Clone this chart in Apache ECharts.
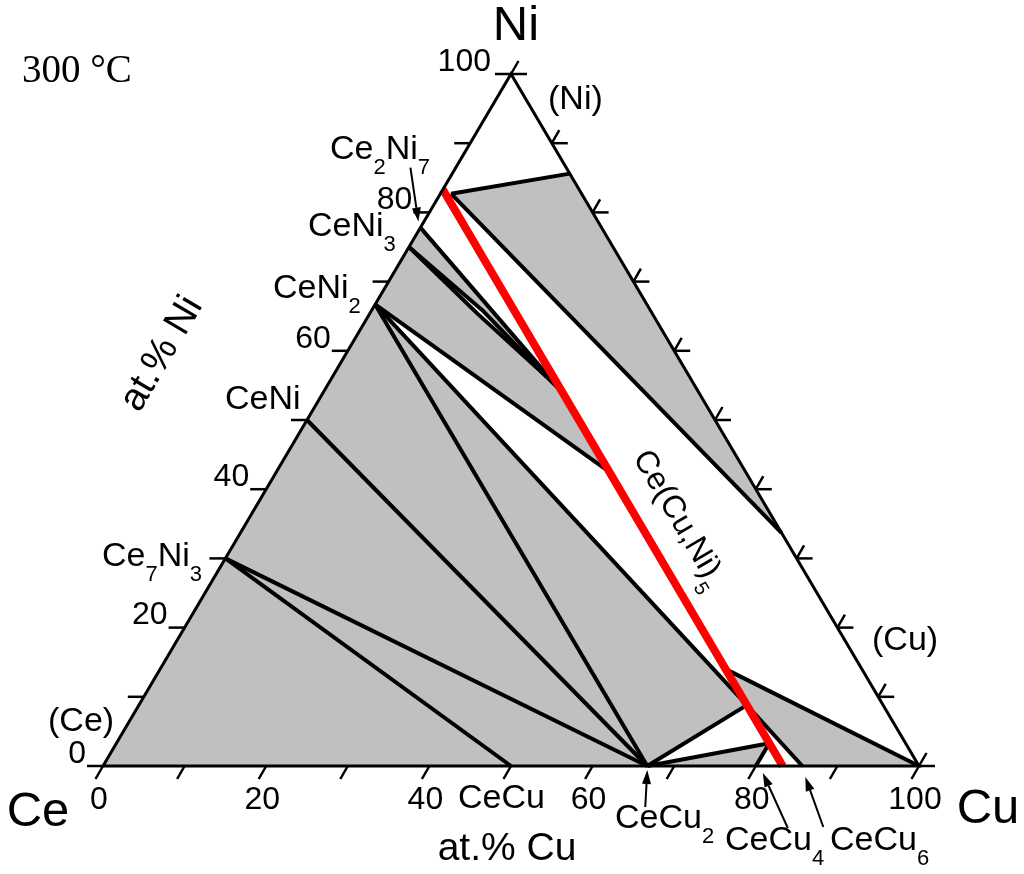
<!DOCTYPE html>
<html>
<head>
<meta charset="utf-8">
<title>Ce–Cu–Ni isothermal section, 300 °C</title>
<script src="https://cdn.jsdelivr.net/npm/echarts@6/dist/echarts.min.js"></script>
<style>
html,body{margin:0;padding:0;background:#ffffff;}
#chart{width:1024px;height:874px;}
</style>
</head>
<body>
<div id="chart"></div>
<script>
// ================= DATA  (compositions [at.% Cu, at.% Ni]; Ce = balance) =================
const cornerNames = ['Ce', 'Cu', 'Ni'];
const cornerCu = [0, 100, 0];
const cornerNi = [0, 0, 100];

const ceNiPhases = ['Ce7Ni3', 'CeNi', 'CeNi2', 'CeNi3', 'Ce2Ni7', 'CeNi5'];
const ceNiPhaseNi = [30, 50, 66.7, 75, 77.8, 83.3];

const ceCuPhases = ['CeCu', 'CeCu2', 'CeCu4', 'CeCu5', 'CeCu6'];
const ceCuPhaseCu = [50, 66.7, 80, 83.3, 85.7];

// corners of the ternary phase fields
const fieldPoints  = ['S1', 'S2', 'E', 'P1', 'P2', 'P3', 'P4', 'R1', 'T1', 'T2', 'T3'];
const fieldPointCu = [13.3, 13.5, 26.3, 29.3, 40.8, 74.5, 80.0, 69.3, 1.3, 14.4, 66.3];
const fieldPointNi = [65.3, 65.9, 56.2, 54.0, 42.5, 8.8, 3.3, 14.0, 82.7, 85.6, 33.7];

const grayRegions = [
  ['Ce', 'CeNi2', 'P3', 'CeCu2'],
  ['CeNi2', 'CeNi3', 'Ce2Ni7', 'P1', 'P2'],
  ['CeCu2', 'P4', 'CeCu4'],
  ['R1', 'Cu', 'CeCu6', 'P3'],
  ['T1', 'T2', 'T3']
];
const whiteRegions = [
  ['CeNi3', 'S1', 'E', 'S2']
];
const tieLines = [
  ['Ce7Ni3', 'CeCu'], ['Ce7Ni3', 'CeCu2'], ['CeNi', 'CeCu2'],
  ['CeNi2', 'CeCu2'], ['CeNi2', 'P3'], ['CeNi2', 'P2'],
  ['CeNi3', 'S1', 'E'], ['CeNi3', 'S2', 'E'], ['E', 'P1'], ['Ce2Ni7', 'P1'],
  ['CeCu2', 'P3'], ['CeCu2', 'P4'], ['P4', 'CeCu4'],
  ['P3', 'CeCu6'], ['R1', 'Cu'],
  ['T1', 'T2'], ['T1', 'T3']
];
const solidSolution = ['CeNi5', 'CeCu5'];          // Ce(Cu,Ni)5
const tickValues = [0, 10, 20, 30, 40, 50, 60, 70, 80, 90, 100];
const tickLabelValues = [0, 20, 40, 60, 80, 100];

// ================= helpers =================
const comp = {};
cornerNames.forEach((n, i) => comp[n] = [cornerCu[i], cornerNi[i]]);
ceNiPhases.forEach((n, i) => comp[n] = [0, ceNiPhaseNi[i]]);
ceCuPhases.forEach((n, i) => comp[n] = [ceCuPhaseCu[i], 0]);
fieldPoints.forEach((n, i) => comp[n] = [fieldPointCu[i], fieldPointNi[i]]);
// ternary -> cartesian (x along Ce–Cu side, y = at.% Ni)
function toXY(c) { return [c[0] + c[1] / 2, c[1]]; }

const FAMILY = '"Liberation Sans", Arial, Helvetica, sans-serif';
const mctx = document.createElement('canvas').getContext('2d');
function textWidth(t, size, fam) { mctx.font = size + 'px ' + (fam || FAMILY); return mctx.measureText(t).width; }

function txt(t, x, y, size, align, vAlign, fam) {
  return {
    type: 'text', x: x, y: y, silent: true,
    style: {
      text: t, fontSize: size, fontFamily: fam || FAMILY, fill: '#000',
      align: align || 'left', verticalAlign: vAlign || 'middle',
      textAlign: align || 'left', textVerticalAlign: vAlign || 'middle'
    }
  };
}
// chemical formula with subscripts: parts = [[text, isSub], ...]
function chem(parts, x, y, size, align) {
  const sub = Math.round(size * 0.64), off = Math.round(size * 0.53);
  const ws = parts.map(p => textWidth(p[0], p[1] ? sub : size));
  const total = ws.reduce((a, b) => a + b, 0);
  let cx = align === 'right' ? x - total : (align === 'center' ? x - total / 2 : x);
  return parts.map((p, i) => {
    const el = txt(p[0], cx, p[1] ? y + off : y, p[1] ? sub : size, 'left', 'middle');
    cx += ws[i];
    return el;
  });
}

// ================= layout (pixels) =================
const LBL = 34, TICKF = 32;
const phaseLabels = [
  { parts: [['Ce', 0], ['2', 1], ['Ni', 0], ['7', 1]], x: 330, y: 150 },
  { parts: [['CeNi', 0], ['3', 1]], x: 308, y: 227 },
  { parts: [['CeNi', 0], ['2', 1]], x: 273, y: 289 },
  { parts: [['CeNi', 0]], x: 225, y: 400 },
  { parts: [['Ce', 0], ['7', 1], ['Ni', 0], ['3', 1]], x: 102, y: 557 },
  { parts: [['(Ce)', 0]], x: 48, y: 722 },
  { parts: [['(Ni)', 0]], x: 548, y: 100 },
  { parts: [['(Cu)', 0]], x: 872, y: 641 },
  { parts: [['CeCu', 0]], x: 458, y: 799 },
  { parts: [['CeCu', 0], ['2', 1]], x: 615, y: 819 },
  { parts: [['CeCu', 0], ['4', 1]], x: 725, y: 841 },
  { parts: [['CeCu', 0], ['6', 1]], x: 830, y: 841 }
];
const arrows = [
  { target: 'Ce2Ni7', tip: [-2, -6], tail: [-10, -60] },
  { target: 'CeCu2', tip: [0, 4], tail: [-2, 41] },
  { target: 'CeCu4', tip: [7, 7], tail: [32, 62] },
  { target: 'CeCu6', tip: [3, 11], tail: [21, 61] }
];

function renderAll(params, api) {
  const P = n => api.coord(toXY(comp[n]));
  const C = c => api.coord(toXY(c));
  const ch = [];
  // phase fields
  grayRegions.forEach(r => ch.push({ type: 'polygon', shape: { points: r.map(P) }, style: { fill: '#c0c0c0', stroke: '#c0c0c0', lineWidth: 0.5 } }));
  whiteRegions.forEach(r => ch.push({ type: 'polygon', shape: { points: r.map(P) }, style: { fill: '#ffffff' } }));
  // tie lines
  tieLines.forEach(l => ch.push({ type: 'polyline', shape: { points: l.map(P) }, style: { stroke: '#000', lineWidth: 4, fill: null, lineJoin: 'round' } }));
  // Ce(Cu,Ni)5 solid solution
  ch.push({ type: 'line', shape: { x1: P(solidSolution[0])[0], y1: P(solidSolution[0])[1], x2: P(solidSolution[1])[0], y2: P(solidSolution[1])[1] }, style: { stroke: '#ff0000', lineWidth: 8, lineCap: 'butt' } });
  // triangle frame
  ch.push({ type: 'polygon', shape: { points: cornerNames.map(P) }, style: { fill: null, stroke: '#000', lineWidth: 3, lineJoin: 'miter' } });
  // ticks
  const tk = (a, d) => ch.push({ type: 'line', shape: { x1: a[0], y1: a[1], x2: a[0] + d[0], y2: a[1] + d[1] }, style: { stroke: '#000', lineWidth: 2.5 } });
  tickValues.forEach(v => {
    tk(C([v, 0]), [-7.5, 13]);          // Cu axis (bottom)
    tk(C([0, v]), [-16, 0]);            // Ni axis (left)
    const r = C([100 - v, v]);           // Cu–Ni side
    tk(r, [16, 0]);
    tk(r, [7.5, -13]);
  });
  tickLabelValues.forEach(v => {
    const l = C([0, v]);
    ch.push(txt(String(v), l[0] - 17 - (v === 100 ? 3 : 0), l[1] - 12, TICKF, 'right', 'middle'));
    const b = C([v, 0]);
    ch.push(txt(String(v), b[0] - 4, b[1] + 34, TICKF, 'center', 'middle'));
  });
  // arrows
  arrows.forEach(a => {
    const p = P(a.target);
    const tip = [p[0] + a.tip[0], p[1] + a.tip[1]], tail = [p[0] + a.tail[0], p[1] + a.tail[1]];
    const dx = tip[0] - tail[0], dy = tip[1] - tail[1], L = Math.hypot(dx, dy);
    const ux = dx / L, uy = dy / L, hl = 14, hw = 4.5;
    const base = [tip[0] - ux * hl, tip[1] - uy * hl];
    ch.push({ type: 'line', shape: { x1: tail[0], y1: tail[1], x2: base[0], y2: base[1] }, style: { stroke: '#000', lineWidth: 2 } });
    ch.push({ type: 'polygon', shape: { points: [tip, [base[0] - uy * hw, base[1] + ux * hw], [base[0] + uy * hw, base[1] - ux * hw]] }, style: { fill: '#000' } });
  });
  // phase labels
  phaseLabels.forEach(l => chem(l.parts, l.x, l.y, LBL, 'left').forEach(e => ch.push(e)));
  // Ce(Cu,Ni)5 label along the red line
  const a0 = P(solidSolution[0]), a1 = P(solidSolution[1]);
  const ang = Math.atan2(a1[1] - a0[1], a1[0] - a0[0]);
  ch.push({ type: 'group', x: 679, y: 519, rotation: -ang, children: chem([['Ce(Cu,Ni)', 0], ['5', 1]], 0, 0, 32, 'center') });
  // corner names, axis titles, temperature
  ch.push(txt('Ni', 516, 26, 49, 'center', 'middle'));
  ch.push(txt('Ce', 38, 812, 49, 'center', 'middle'));
  ch.push(txt('Cu', 988, 809, 49, 'center', 'middle'));
  ch.push(txt('at.% Cu', 507, 849, 39, 'center', 'middle'));
  const l0 = P('Ce'), l1 = P('Ni');
  const angL = Math.atan2(l0[1] - l1[1], l1[0] - l0[0]);
  ch.push({ type: 'group', x: 162, y: 354, rotation: angL, children: [txt('at.% Ni', 0, 0, 39, 'center', 'middle')] });
  ch.push(txt('300 °C', 22, 72, 39, 'left', 'middle', '"Liberation Serif", "Times New Roman", serif'));
  return { type: 'group', children: ch };
}

const chart = echarts.init(document.getElementById('chart'), null, { renderer: 'canvas' });
chart.setOption({
  animation: false,
  backgroundColor: '#ffffff',
  grid: { left: 103, right: 105, top: 74, bottom: 108 },
  xAxis: { type: 'value', min: 0, max: 100, show: false },
  yAxis: { type: 'value', min: 0, max: 100, show: false },
  series: [{
    type: 'custom',
    name: 'Ce–Cu–Ni 300 °C',
    coordinateSystem: 'cartesian2d',
    clip: false,
    silent: true,
    data: [[0, 0]],
    renderItem: renderAll
  }]
});
</script>
</body>
</html>
